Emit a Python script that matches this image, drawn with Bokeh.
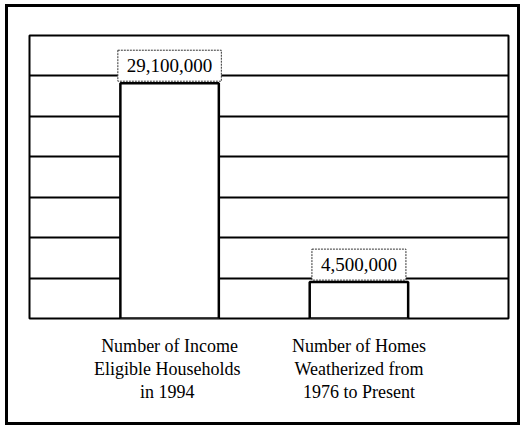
from bokeh.plotting import figure
from bokeh.models import Label, FixedTicker, ColumnDataSource
from bokeh.embed import file_html
from bokeh.resources import INLINE

categories = ["Number of Income\nEligible  Households\nin  1994",
              "Number of Homes\nWeatherized from\n1976 to Present"]
values = [29100000, 4500000]
value_labels = ["29,100,000", "4,500,000"]
positions = [1.0, 2.0]

p = figure(width=515, height=421, output_backend="svg", toolbar_location=None,
           x_range=(0.26, 2.79), y_range=(0, 35000000),
           min_border_left=21, min_border_right=15, min_border_top=28, min_border_bottom=110,
           styles={"border": "3px solid black", "margin-left": "5px", "margin-top": "4px"})
p.background_fill_color = "white"
p.border_fill_color = "white"
p.outline_line_color = "black"
p.outline_line_width = 2

src = ColumnDataSource(dict(x=positions, top=values))
p.vbar(x="x", top="top", width=0.52, bottom=0, source=src,
       fill_color="white", line_color="black", line_width=2.5)

p.yaxis.visible = False
p.ygrid.ticker = FixedTicker(ticks=[5000000 * i for i in range(8)])
p.ygrid.grid_line_color = "black"
p.ygrid.grid_line_width = 2
p.xgrid.visible = False

xa = p.xaxis[0]
xa.ticker = FixedTicker(ticks=positions)
xa.major_label_overrides = {positions[i]: categories[i] for i in range(2)}
xa.axis_line_color = None
xa.major_tick_line_color = None
xa.minor_tick_line_color = None
xa.major_label_text_font = "Liberation Serif"
xa.major_label_text_font_size = "18px"
xa.major_label_text_line_height = 1.15
xa.major_label_text_color = "black"
xa.major_label_standoff = 11

for xv, v, t in zip(positions, values, value_labels):
    p.add_layout(Label(x=xv, y=v, text=t, y_offset=2, text_align="center",
                       text_baseline="bottom", text_font="Liberation Serif",
                       text_font_size="19px", text_color="black",
                       background_fill_color="white", border_line_color="#333333",
                       border_line_width=1, border_line_dash="2 1", padding=9))

open("out.html", "w").write(file_html(p, INLINE))
